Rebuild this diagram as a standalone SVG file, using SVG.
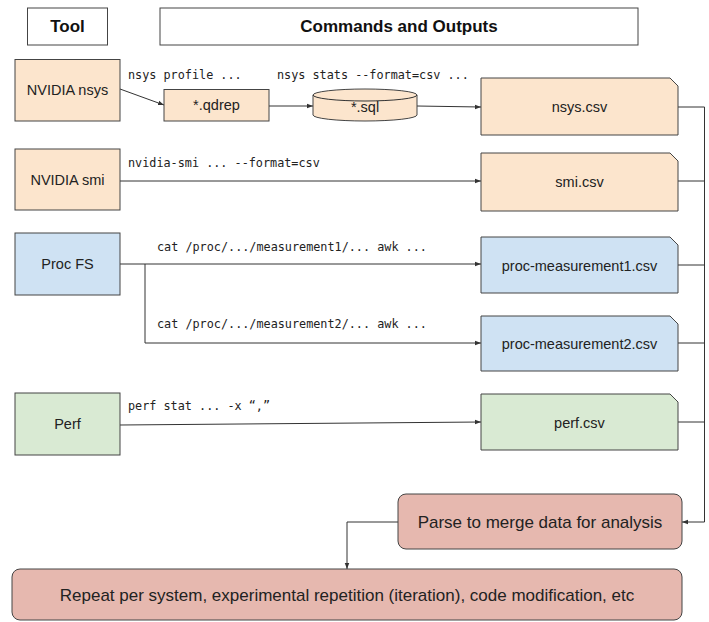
<svg xmlns="http://www.w3.org/2000/svg" width="709" height="622" viewBox="0 0 709 622">
<style>
.box{stroke:#444;stroke-width:1}
.hdr{fill:#fff}
.or{fill:#fce5cd}
.bl{fill:#cfe2f3}
.gr{fill:#d9ead3}
.rd{fill:#e6b8af}
.t{font-family:"Liberation Sans",Arial,sans-serif;font-size:14.5px;fill:#222;text-anchor:middle;dominant-baseline:central}
.b{font-family:"Liberation Sans",Arial,sans-serif;font-size:17px;font-weight:bold;fill:#111;text-anchor:middle;dominant-baseline:central}
.big{font-family:"Liberation Sans",Arial,sans-serif;font-size:17px;fill:#222;text-anchor:middle;dominant-baseline:central}
.m{font-family:"DejaVu Sans Mono",monospace;font-size:11.8px;fill:#222}
.c{fill:none;stroke:#333;stroke-width:1}
</style>
<defs>
<marker id="ah" viewBox="0 0 8 8" refX="8" refY="4" markerWidth="6" markerHeight="6" orient="auto" markerUnits="userSpaceOnUse">
<path d="M0,1 L8,4 L0,7 z" fill="#333"/>
</marker>
</defs>
<g id="header-tool"><rect class="box hdr" x="27.5" y="8" width="80" height="37"/><text class="b" x="67.5" y="26.5">Tool</text></g>
<g id="header-commands"><rect class="box hdr" x="160" y="8" width="478" height="37"/><text class="b" x="399" y="26.5">Commands and Outputs</text></g>

<g id="connectors">
<path class="c" d="M120,89 L164,105" marker-end="url(#ah)"/>
<path class="c" d="M269,106 L313,106" marker-end="url(#ah)"/>
<path class="c" d="M417,106 L481,107" marker-end="url(#ah)"/>
<path class="c" d="M120,181 L481,181" marker-end="url(#ah)"/>
<path class="c" d="M120,264 L481,264" marker-end="url(#ah)"/>
<path class="c" d="M145,264 L145,343 L481,343" marker-end="url(#ah)"/>
<path class="c" d="M120,425 L481,422" marker-end="url(#ah)"/>
<path class="c" d="M678,107 L704.5,107 L704.5,522 L682,522" marker-end="url(#ah)"/>
<path class="c" d="M678,181 L704.5,181"/>
<path class="c" d="M678,265 L704.5,265"/>
<path class="c" d="M678,343 L704.5,343"/>
<path class="c" d="M678,422 L704.5,422"/>
<path class="c" d="M398,522 L347,522 L347,569" marker-end="url(#ah)"/>
<text class="m" x="128" y="79">nsys profile ...</text>
<text class="m" x="277" y="79">nsys stats --format=csv ...</text>
<text class="m" x="128" y="167">nvidia-smi ... --format=csv</text>
<text class="m" x="157" y="251">cat /proc/.../measurement1/... awk ...</text>
<text class="m" x="157" y="328">cat /proc/.../measurement2/... awk ...</text>
<text class="m" x="128" y="410">perf stat ... -x “,”</text>
</g>

<g id="nvidia-nsys"><rect class="box or" x="15" y="59.5" width="105" height="61.5"/><text class="t" x="67.5" y="90">NVIDIA nsys</text></g>
<g id="qdrep"><rect class="box or" x="164" y="89.5" width="105" height="31.5"/><text class="t" x="216.5" y="105">*.qdrep</text></g>
<g id="sql"><path class="box or" d="M313,95 A52,6 0 0 1 417,95 L417,115 A52,6 0 0 1 313,115 Z"/><path class="c" d="M313,95 A52,6 0 0 0 417,95"/><text class="t" x="365" y="107">*.sql</text></g>
<g id="nsys-csv"><path class="box or" d="M481,78 L670,78 L678,86 L678,135 L481,135 Z"/><text class="t" x="579.5" y="107">nsys.csv</text></g>

<g id="nvidia-smi"><rect class="box or" x="15" y="149" width="105" height="61"/><text class="t" x="67.5" y="180">NVIDIA smi</text></g>
<g id="smi-csv"><path class="box or" d="M481,153 L670,153 L678,161 L678,211 L481,211 Z"/><text class="t" x="579.5" y="182">smi.csv</text></g>

<g id="proc-fs"><rect class="box bl" x="15" y="233" width="105" height="62"/><text class="t" x="67.5" y="264">Proc FS</text></g>
<g id="proc-m1"><path class="box bl" d="M481,237 L670,237 L678,245 L678,293 L481,293 Z"/><text class="t" x="579.5" y="266">proc-measurement1.csv</text></g>
<g id="proc-m2"><path class="box bl" d="M481,316 L670,316 L678,324 L678,371 L481,371 Z"/><text class="t" x="579.5" y="344">proc-measurement2.csv</text></g>

<g id="perf"><rect class="box gr" x="15" y="393" width="105" height="62"/><text class="t" x="67.5" y="424">Perf</text></g>
<g id="perf-csv"><path class="box gr" d="M481,394 L670,394 L678,402 L678,450 L481,450 Z"/><text class="t" x="579.5" y="423">perf.csv</text></g>

<g id="parse"><rect class="box rd" x="398" y="494" width="284" height="55" rx="8"/><text class="big" x="540" y="522">Parse to merge data for analysis</text></g>
<g id="repeat"><rect class="box rd" x="12" y="569" width="670" height="51" rx="8"/><text class="big" x="347" y="595">Repeat per system, experimental repetition (iteration), code modification, etc</text></g>
</svg>
